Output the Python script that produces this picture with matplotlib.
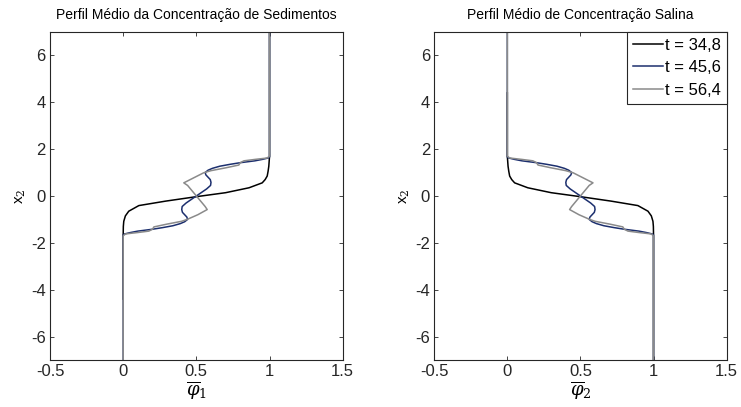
import matplotlib

matplotlib.use("Agg")
import matplotlib.pyplot as plt

plt.rcParams["font.family"] = ["Liberation Sans", "DejaVu Sans"]
plt.rcParams["mathtext.fontset"] = "dejavuserif"

LABELS = ["t = 34,8", "t = 45,6", "t = 56,4"]
COLORS = ["#000000", "#1c2f6e", "#8a8a8a"]
TITLES = ["Perfil Médio da Concentração de Sedimentos", "Perfil Médio de Concentração Salina"]
XLABELS = [r"$\overline{\varphi}_1$", r"$\overline{\varphi}_2$"]

# left panel: mean sediment concentration phi1 versus x2
x2_black_1 = [-4.4, -1.64, -1.3, -1.08, -0.85, -0.65, -0.41, -0.22, -0.03, 0.14, 0.35, 0.56, 0.7, 0.85, 1.05, 1.27, 1.7, 7.0]
phi_black_1 = [0.0, 0.0, 0.001, 0.004, 0.015, 0.038, 0.107, 0.29, 0.5, 0.70, 0.86, 0.95, 0.97, 0.984, 0.99, 0.995, 1.0, 1.0]

x2_blue_1 = [-7.0, -1.66, -1.62, -1.56, -1.5, -1.42, -1.35, -1.27, -1.18, -1.1, -1.0, -0.9, -0.8, -0.7, -0.58, -0.45,
             -0.3, -0.15, 0.0, 0.15, 0.3, 0.45, 0.58, 0.7, 0.8, 0.9, 1.0, 1.1, 1.18, 1.27, 1.35, 1.42, 1.5, 1.56,
             1.62, 1.66, 7.0]
phi_blue_1 = [0.0, 0.0, 0.01, 0.05, 0.1, 0.2, 0.27, 0.34, 0.39, 0.42, 0.44, 0.435, 0.42, 0.405, 0.40, 0.403,
              0.43, 0.465, 0.5, 0.535, 0.57, 0.597, 0.60, 0.595, 0.58, 0.565, 0.56, 0.58, 0.61, 0.66, 0.73, 0.8,
              0.9, 0.95, 0.99, 1.0, 1.0]

x2_gray_1 = [-7.0, -1.70, -1.62, -1.56, -1.5, -1.42, -1.32, -1.2, -1.08, -1.0, -0.8, -0.58, -0.45, -0.3, 0.0,
             0.3, 0.45, 0.56, 0.8, 0.99, 1.08, 1.2, 1.32, 1.42, 1.5, 1.56, 1.62, 1.70, 7.0]
phi_gray_1 = [0.0, 0.0, 0.016, 0.1, 0.175, 0.2, 0.21, 0.3, 0.40, 0.437, 0.51, 0.574, 0.56, 0.54, 0.5,
              0.46, 0.44, 0.414, 0.49, 0.55, 0.6, 0.7, 0.79, 0.8, 0.825, 0.9, 0.984, 1.0, 1.0]

# right panel: mean salt concentration phi2 versus x2
x2_black_2 = [-7.0, -1.64, -1.3, -1.08, -0.85, -0.65, -0.41, -0.22, -0.03, 0.14, 0.35, 0.56, 0.7, 0.85, 1.05, 1.27, 1.7, 4.4]
phi_black_2 = [1.0, 1.0, 0.999, 0.996, 0.985, 0.962, 0.893, 0.71, 0.5, 0.30, 0.14, 0.05, 0.03, 0.016, 0.01, 0.005, 0.0, 0.0]

x2_blue_2 = [-7.0, -1.66, -1.62, -1.56, -1.5, -1.42, -1.35, -1.27, -1.18, -1.1, -1.0, -0.9, -0.8, -0.7, -0.58, -0.45,
             -0.3, -0.15, 0.0, 0.15, 0.3, 0.45, 0.58, 0.7, 0.8, 0.9, 1.0, 1.1, 1.18, 1.27, 1.35, 1.42, 1.5, 1.56,
             1.62, 1.66, 7.0]
phi_blue_2 = [1.0, 1.0, 0.99, 0.95, 0.9, 0.8, 0.73, 0.66, 0.61, 0.58, 0.56, 0.565, 0.58, 0.595, 0.60, 0.597,
              0.57, 0.535, 0.5, 0.465, 0.43, 0.403, 0.40, 0.405, 0.42, 0.435, 0.44, 0.42, 0.39, 0.34, 0.27, 0.2,
              0.1, 0.05, 0.01, 0.0, 0.0]

x2_gray_2 = [-7.0, -1.70, -1.62, -1.56, -1.5, -1.42, -1.32, -1.2, -1.08, -1.0, -0.8, -0.58, -0.45, -0.3, 0.0,
             0.3, 0.45, 0.56, 0.8, 0.99, 1.08, 1.2, 1.32, 1.42, 1.5, 1.56, 1.62, 1.70, 7.0]
phi_gray_2 = [1.0, 1.0, 0.984, 0.9, 0.825, 0.8, 0.79, 0.7, 0.6, 0.563, 0.49, 0.426, 0.44, 0.46, 0.5,
              0.54, 0.56, 0.586, 0.51, 0.45, 0.4, 0.3, 0.21, 0.2, 0.175, 0.1, 0.016, 0.0, 0.0]

panels = [
    [(phi_black_1, x2_black_1), (phi_blue_1, x2_blue_1), (phi_gray_1, x2_gray_1)],
    [(phi_black_2, x2_black_2), (phi_blue_2, x2_blue_2), (phi_gray_2, x2_gray_2)],
]

fig = plt.figure(figsize=(7.41, 4.07), dpi=100)
axes = [fig.add_axes([0.0675, 0.1155, 0.395, 0.806]),
        fig.add_axes([0.586, 0.1155, 0.3946, 0.806])]

for i, ax in enumerate(axes):
    for (phi, x2), color, label in zip(panels[i], COLORS, LABELS):
        ax.plot(phi, x2, color=color, lw=1.1, label=label)
    ax.set_xlim(-0.5, 1.5)
    ax.set_ylim(-7, 7)
    ax.set_xticks([-0.5, 0, 0.5, 1, 1.5])
    ax.set_xticklabels(["-0.5", "0", "0.5", "1", "1.5"])
    ax.set_yticks([-6, -4, -2, 0, 2, 4, 6])
    ax.set_yticklabels(["-6", "-4", "-2", "0", "2", "4", "6"])
    ax.tick_params(direction="in", top=True, right=True, length=3, width=0.6,
                   labelsize=12, colors="#262626", pad=3)
    for s in ax.spines.values():
        s.set_linewidth(0.8)
        s.set_color("#262626")
    ax.set_title(TITLES[i], fontsize=10, pad=9)
    ax.set_xlabel(XLABELS[i], fontsize=13, labelpad=0)
    ax.set_ylabel(r"x$_2$", fontsize=11, labelpad=2)

leg = axes[1].legend(loc="upper right", bbox_to_anchor=(1.0, 1.0), borderaxespad=0,
                     fontsize=12, fancybox=False, edgecolor="#262626", framealpha=1,
                     handlelength=1.8, handletextpad=0.1, labelspacing=0.45,
                     borderpad=0.35)
leg.get_frame().set_linewidth(0.8)

fig.savefig("out.png", dpi=100)
